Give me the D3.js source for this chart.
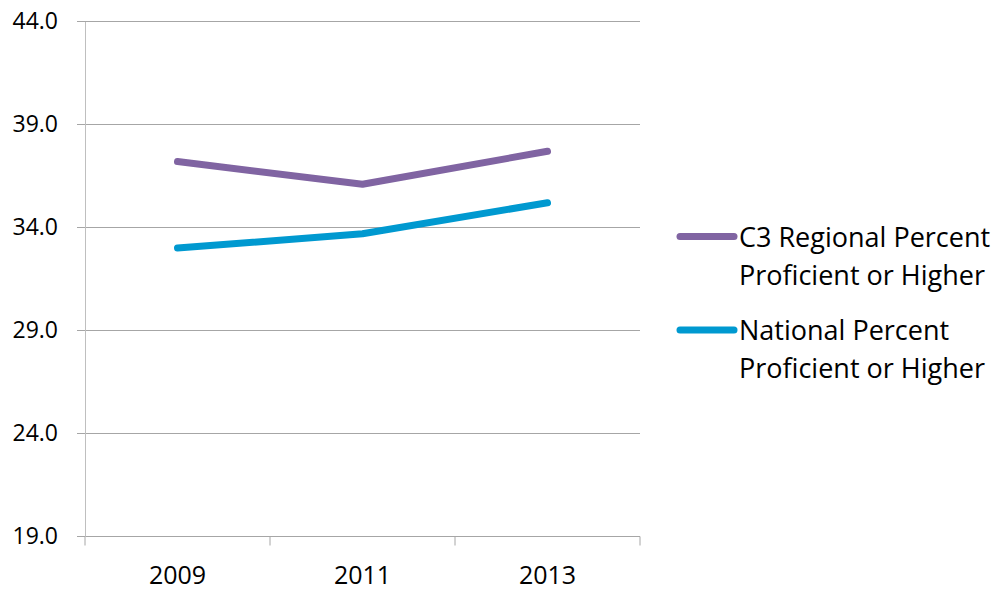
<!DOCTYPE html>
<html>
<head>
<meta charset="utf-8">
<script src="https://cdn.jsdelivr.net/npm/d3@7"></script>
<style>
  body { margin: 0; background: #fff; }
  text { font-family: "Open Sans", "Noto Sans", sans-serif; fill: #000; }
</style>
</head>
<body>
<svg id="chart" width="1003" height="593"></svg>
<script>
// data
const years = ["2009", "2011", "2013"];
const regional = [37.2, 36.1, 37.7];
const national = [33.0, 33.7, 35.2];
const yTicks = [19, 24, 29, 34, 39, 44];
const seriesNames = [["C3 Regional Percent", "Proficient or Higher"], ["National Percent", "Proficient or Higher"]];
const seriesColors = ["#8064A2", "#0099D0"];

function main(){
    let svg = d3.select("#chart");
    let left = 85, right = 640, top = 21.5, bottom = 536.5;

    let x = d3.scaleBand().domain(years).range([left, right]);
    let y = d3.scaleLinear().domain([19, 44]).range([bottom, top]);

    // gridlines
    svg.append("g")
        .selectAll("line")
        .data(yTicks)
        .enter().append("line")
        .attr("x1", left - 8)
        .attr("x2", right)
        .attr("y1", d => y(d))
        .attr("y2", d => y(d))
        .attr("stroke", "#a6a6a6")
        .attr("stroke-width", 1);

    // y axis
    let yAxis = svg.append("g")
        .attr("transform", "translate(" + left + ",0)")
        .call(d3.axisLeft(y).tickValues(yTicks).tickFormat(d3.format(".1f")).tickSize(0).tickPadding(27));
    yAxis.select(".domain").attr("stroke", "#bfbfbf");
    yAxis.selectAll("text").style("font-size", "23px");

    // x axis
    let xAxis = svg.append("g")
        .attr("transform", "translate(0," + bottom + ")")
        .call(d3.axisBottom(x).tickSize(0).tickPadding(0));
    xAxis.select(".domain").remove();
    xAxis.selectAll("text")
        .attr("y", 47.5)
        .attr("dy", null)
        .style("font-size", "25px");

    // category separator ticks
    svg.append("g")
        .selectAll("line")
        .data(years.map(d => x(d)).concat([right]))
        .enter().append("line")
        .attr("x1", d => d)
        .attr("x2", d => d)
        .attr("y1", bottom)
        .attr("y2", bottom + 9)
        .attr("stroke", "#a6a6a6");

    let line = d3.line()
        .x((d, i) => x(years[i]) + x.bandwidth() / 2)
        .y(d => y(d));

    [regional, national].forEach(function(vals, i){
        svg.append("path")
            .datum(vals)
            .attr("d", line)
            .attr("fill", "none")
            .attr("stroke", seriesColors[i])
            .attr("stroke-width", 7)
            .attr("stroke-linecap", "round")
            .attr("stroke-linejoin", "round");
    });

    // legend
    let legendY = [236.5, 330];
    seriesNames.forEach(function(name, i){
        let g = svg.append("g").attr("transform", "translate(0," + legendY[i] + ")");
        g.append("line")
            .attr("x1", 680).attr("x2", 734)
            .attr("y1", 0).attr("y2", 0)
            .attr("stroke", seriesColors[i])
            .attr("stroke-width", 7)
            .attr("stroke-linecap", "round");
        g.selectAll("text")
            .data(name)
            .enter().append("text")
            .attr("x", 739)
            .attr("y", (d, j) => 10 + j * 38)
            .style("font-size", "27px")
            .text(d => d);
    });
}

main();
</script>
</body>
</html>
